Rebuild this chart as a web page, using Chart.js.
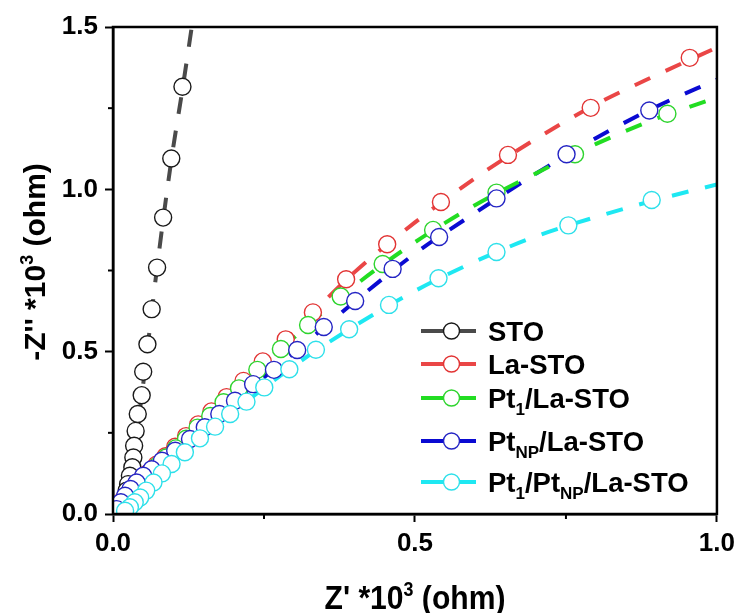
<!DOCTYPE html>
<html lang="en">
<head>
    <meta charset="UTF-8">
    <title>Nyquist plot</title>
    <style>
        body {
            margin: 0;
            padding: 0;
            background-color: #ffffff;
        }
        .chart-box {
            width: 741px;
            height: 613px;
        }
    </style>
    <script src="https://cdn.jsdelivr.net/npm/chart.js"></script>
</head>
<body>
    <div class="chart-box">
        <canvas id="nyquistChart" width="741" height="613"></canvas>
    </div>

    <script>
        // Series names (_{..} = subscript)
        const seriesNames = ['STO', 'La-STO', 'Pt_{1}/La-STO', 'Pt_{NP}/La-STO', 'Pt_{1}/Pt_{NP}/La-STO'];

        // Measured points, Z' and -Z'' in units of 10^3 ohm
        const xSTO = [0.115, 0.0965, 0.083, 0.073, 0.064, 0.057, 0.050, 0.0475, 0.041, 0.0375, 0.035, 0.0337, 0.032, 0.028, 0.025, 0.0227, 0.020, 0.016, 0.0116, 0.0055];
        const ySTO = [1.316, 1.095, 0.913, 0.759, 0.631, 0.523, 0.438, 0.366, 0.308, 0.256, 0.210, 0.174, 0.144, 0.118, 0.092, 0.072, 0.051, 0.034, 0.020, 0.008];

        const xLa = [0.955, 0.791, 0.654, 0.543, 0.454, 0.386, 0.331, 0.286, 0.248, 0.216, 0.188, 0.163, 0.141, 0.121, 0.103, 0.087, 0.072, 0.058, 0.046, 0.035, 0.025, 0.016, 0.008];
        const yLa = [1.405, 1.251, 1.106, 0.961, 0.831, 0.723, 0.621, 0.538, 0.470, 0.410, 0.360, 0.316, 0.276, 0.240, 0.207, 0.178, 0.152, 0.126, 0.104, 0.083, 0.062, 0.042, 0.022];

        const xPt1 = [0.918, 0.765, 0.635, 0.530, 0.4465, 0.377, 0.323, 0.278, 0.239, 0.2086, 0.183, 0.161, 0.140, 0.121, 0.104, 0.088, 0.074, 0.061, 0.049, 0.038, 0.028, 0.019, 0.011, 0.005];
        const yPt1 = [1.233, 1.108, 0.990, 0.875, 0.770, 0.670, 0.582, 0.508, 0.444, 0.387, 0.344, 0.302, 0.266, 0.232, 0.202, 0.174, 0.149, 0.125, 0.103, 0.082, 0.062, 0.044, 0.026, 0.012];

        const xPtNP = [0.888, 0.751, 0.635, 0.540, 0.463, 0.401, 0.349, 0.305, 0.2665, 0.232, 0.202, 0.176, 0.152, 0.1275, 0.103, 0.081, 0.064, 0.050, 0.039, 0.029, 0.020, 0.013, 0.006];
        const yPtNP = [1.243, 1.108, 0.972, 0.853, 0.755, 0.656, 0.576, 0.505, 0.444, 0.400, 0.349, 0.308, 0.267, 0.231, 0.195, 0.164, 0.138, 0.118, 0.097, 0.077, 0.056, 0.036, 0.015];

        const xPt1NP = [0.892, 0.754, 0.635, 0.539, 0.457, 0.391, 0.336, 0.292, 0.2505, 0.221, 0.194, 0.169, 0.144, 0.119, 0.097, 0.081, 0.067, 0.055, 0.045, 0.036, 0.028, 0.020];
        const yPt1NP = [0.967, 0.889, 0.807, 0.726, 0.644, 0.569, 0.506, 0.446, 0.390, 0.346, 0.308, 0.269, 0.233, 0.190, 0.154, 0.125, 0.097, 0.072, 0.051, 0.036, 0.021, 0.010];

        // Fitted curves (dashed)
        const fitXSTO = [0, 0.012, 0.022, 0.032, 0.040, 0.048, 0.058, 0.073, 0.097, 0.116, 0.132];
        const fitYSTO = [0, 0.025, 0.065, 0.150, 0.260, 0.370, 0.525, 0.760, 1.095, 1.320, 1.520];

        const fitX = [0, 0.01, 0.025, 0.05, 0.1, 0.2, 0.3, 0.4, 0.5, 0.6, 0.7, 0.8, 0.9, 1.0];
        const fitYLa = [0, 0.027, 0.062, 0.111, 0.201, 0.381, 0.563, 0.745, 0.898, 1.035, 1.155, 1.262, 1.352, 1.437];
        const fitYPt1 = [0, 0.025, 0.058, 0.105, 0.195, 0.373, 0.544, 0.703, 0.837, 0.952, 1.049, 1.140, 1.218, 1.283];
        const fitYPtNP = [0, 0.024, 0.060, 0.116, 0.191, 0.346, 0.497, 0.654, 0.802, 0.928, 1.048, 1.158, 1.255, 1.338];
        const fitXPt1NP = [0.012, 0.02, 0.03, 0.05, 0.1, 0.15, 0.2, 0.3, 0.4, 0.5, 0.6, 0.7, 0.8, 0.9, 1.0];
        const fitYPt1NP = [0, 0.010, 0.024, 0.061, 0.159, 0.242, 0.316, 0.457, 0.579, 0.687, 0.778, 0.855, 0.915, 0.968, 1.015];

        const lineColors = ['#4a4a4a', '#ea4646', '#22dd22', '#0a0ad2', '#1ee8f2'];
        const markColors = ['#1a1a1a', '#e23434', '#2ed42e', '#2424c4', '#2ee0ea'];

        function toPoints(xs, ys) {
            return xs.map((x, i) => ({ x: x, y: ys[i] }));
        }

        const pointSets = [
            toPoints(xSTO, ySTO), toPoints(xLa, yLa), toPoints(xPt1, yPt1),
            toPoints(xPtNP, yPtNP), toPoints(xPt1NP, yPt1NP)
        ];
        const fitSets = [
            toPoints(fitXSTO, fitYSTO), toPoints(fitX, fitYLa), toPoints(fitX, fitYPt1),
            toPoints(fitX, fitYPtNP), toPoints(fitXPt1NP, fitYPt1NP)
        ];

        const FONT = "'Liberation Sans', Arial, sans-serif";

        const datasets = [];
        fitSets.forEach((pts, i) => {
            datasets.push({
                label: seriesNames[i] + ' fit',
                data: pts,
                showLine: true,
                borderColor: lineColors[i],
                borderWidth: 4,
                borderDash: [17, 17],
                cubicInterpolationMode: 'monotone',
                pointRadius: 0,
                order: 20
            });
        });
        pointSets.forEach((pts, i) => {
            datasets.push({
                label: seriesNames[i],
                data: pts,
                showLine: false,
                pointRadius: 8.5,
                pointBorderWidth: 1.4,
                pointBorderColor: markColors[i],
                pointBackgroundColor: '#ffffff',
                order: 10 - i
            });
        });

        // draw text with _{sub} and ^{sup} parts
        function drawRich(ctx, text, x, y, size, align) {
            const parts = [];
            const re = /_\{([^}]*)\}|\^\{([^}]*)\}/g;
            let last = 0, m;
            while ((m = re.exec(text)) !== null) {
                if (m.index > last) parts.push({ t: text.slice(last, m.index), k: 'n' });
                if (m[1] !== undefined) parts.push({ t: m[1], k: 'sub' });
                else parts.push({ t: m[2], k: 'sup' });
                last = re.lastIndex;
            }
            if (last < text.length) parts.push({ t: text.slice(last), k: 'n' });

            const small = Math.round(size * 0.6);
            let total = 0;
            parts.forEach(p => {
                ctx.font = 'bold ' + (p.k === 'n' ? size : small) + 'px ' + FONT;
                p.w = ctx.measureText(p.t).width;
                total += p.w;
            });
            let cx = align === 'center' ? x - total / 2 : x;
            ctx.textAlign = 'left';
            ctx.textBaseline = 'alphabetic';
            parts.forEach(p => {
                ctx.font = 'bold ' + (p.k === 'n' ? size : small) + 'px ' + FONT;
                let dy = 0;
                if (p.k === 'sub') dy = size * 0.28;
                if (p.k === 'sup') dy = -size * 0.4;
                ctx.fillText(p.t, cx, y + dy);
                cx += p.w;
            });
        }

        const decorPlugin = {
            id: 'decor',
            afterDraw(chart) {
                const ctx = chart.ctx;
                const area = chart.chartArea;
                const xs = chart.scales.x, ys = chart.scales.y;
                ctx.save();

                // frame
                ctx.strokeStyle = '#000';
                ctx.lineWidth = 2.5;
                ctx.strokeRect(area.left, area.top, area.right - area.left, area.bottom - area.top);

                // minor ticks
                ctx.lineWidth = 2;
                [0.25, 0.75].forEach(v => {
                    const px = xs.getPixelForValue(v);
                    ctx.beginPath();
                    ctx.moveTo(px, area.bottom);
                    ctx.lineTo(px, area.bottom + 5);
                    ctx.stroke();
                });
                [0.25, 0.75, 1.25].forEach(v => {
                    const py = ys.getPixelForValue(v);
                    ctx.beginPath();
                    ctx.moveTo(area.left, py);
                    ctx.lineTo(area.left - 5, py);
                    ctx.stroke();
                });

                // axis titles
                ctx.fillStyle = '#000';
                ctx.save();
                ctx.translate((area.left + area.right) / 2, 609);
                ctx.scale(0.94, 1.05);
                drawRich(ctx, "Z' *10^{3} (ohm)", 0, 0, 32, 'center');
                ctx.restore();

                ctx.save();
                ctx.translate(45, 262);
                ctx.rotate(-Math.PI / 2);
                drawRich(ctx, "-Z'' *10^{3} (ohm)", 0, 0, 30, 'center');
                ctx.restore();

                // legend
                const rowsY = [331, 364, 398, 441, 482];
                rowsY.forEach((ry, i) => {
                    ctx.strokeStyle = lineColors[i];
                    ctx.lineWidth = 4;
                    ctx.beginPath();
                    ctx.moveTo(421, ry);
                    ctx.lineTo(476, ry);
                    ctx.stroke();
                    ctx.beginPath();
                    ctx.arc(451.5, ry, 8, 0, Math.PI * 2);
                    ctx.fillStyle = '#fff';
                    ctx.fill();
                    ctx.strokeStyle = markColors[i];
                    ctx.lineWidth = 1.4;
                    ctx.stroke();
                    ctx.fillStyle = '#000';
                    drawRich(ctx, seriesNames[i], 488, ry + 9.5, 27.5, 'left');
                });
                ctx.restore();
            }
        };

        const axisCommon = {
            type: 'linear',
            grid: {
                drawOnChartArea: false,
                drawTicks: true,
                tickLength: 8,
                tickWidth: 2,
                tickColor: '#000'
            },
            border: { display: true, color: '#000', width: 2.5 },
            ticks: {
                color: '#000',
                font: { family: FONT, size: 26, weight: 'bold' },
                stepSize: 0.5,
                callback: v => v.toFixed(1)
            }
        };

        new Chart(document.getElementById('nyquistChart'), {
            type: 'scatter',
            data: { datasets: datasets },
            options: {
                responsive: false,
                animation: false,
                layout: { padding: { left: 0, right: 24, top: 27, bottom: 0 } },
                plugins: {
                    legend: { display: false },
                    tooltip: { enabled: false }
                },
                scales: {
                    x: Object.assign({}, axisCommon, {
                        min: 0, max: 1.0,
                        ticks: Object.assign({}, axisCommon.ticks, { padding: 6, maxRotation: 0 }),
                        afterFit(scale) { scale.height = 99; }
                    }),
                    y: Object.assign({}, axisCommon, {
                        min: 0, max: 1.5,
                        ticks: Object.assign({}, axisCommon.ticks, { padding: 7 }),
                        afterFit(scale) { scale.width = 113; }
                    })
                }
            },
            plugins: [decorPlugin]
        });
    </script>
</body>
</html>
